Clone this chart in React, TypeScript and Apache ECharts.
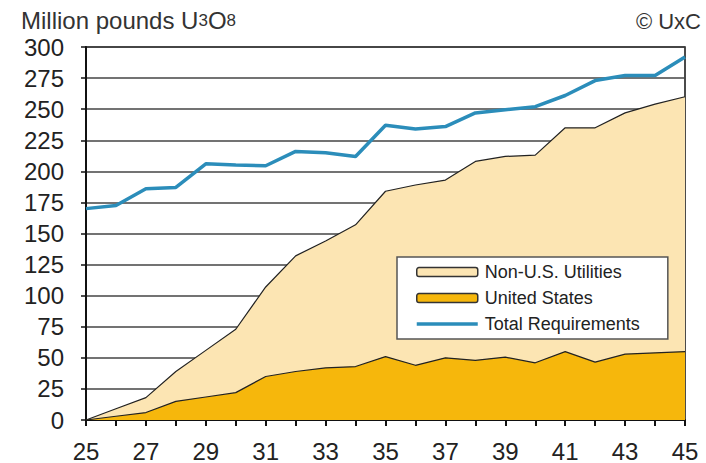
import React, { useEffect, useRef } from "react";
import * as echarts from "echarts";

const years = ["25","26","27","28","29","30","31","32","33","34","35","36","37","38","39","40","41","42","43","44","45"];
const unitedStates = [0, 3, 6, 15, 18.5, 22, 35, 39, 42, 43, 51, 44, 50, 48, 50.5, 46, 55, 46.5, 53, 54, 55];
const nonUS = [0, 6, 12, 24, 37.5, 51, 72, 93, 102, 114, 133, 145, 143, 160, 161.5, 167, 180, 188.5, 194, 200, 205];
const totalRequirements = [170, 172.5, 186, 187, 206, 205, 204.5, 216, 215, 212, 237, 234, 236, 247, 249.5, 252, 261, 273, 277, 277, 292];

const FONT = "'Liberation Sans', Arial, sans-serif";
const BLUE = "#2b8dba";
const GOLD = "#f6b70c";
const CREAM = "#fce5b3";

export default function App() {
  const ref = useRef<HTMLDivElement>(null);
  useEffect(() => {
    if (!ref.current) return;
    const chart = echarts.init(ref.current, undefined, { renderer: "svg" });
    chart.setOption({
      animation: false,
      backgroundColor: "#ffffff",
      textStyle: { fontFamily: FONT },
      title: [
        {
          left: 21,
          top: 8,
          padding: 0,
          text: "{a|Million pounds U}{b|3}{a|O}{b|8}",
          textStyle: {
            rich: {
              a: { fontSize: 24, lineHeight: 24, color: "#333", fontWeight: "normal", fontFamily: FONT },
              b: { fontSize: 17, lineHeight: 24, color: "#333", fontWeight: "normal", fontFamily: FONT },
            },
          },
        },
        {
          right: 5,
          top: 10,
          padding: 0,
          text: "© UxC",
          textStyle: { fontSize: 22, lineHeight: 22, color: "#333", fontWeight: "normal", fontFamily: FONT },
        },
      ],
      legend: {
        orient: "vertical",
        left: 397,
        top: 257,
        padding: [6, 28, 6, 19],
        itemWidth: 61,
        itemHeight: 9,
        itemGap: 8,
        backgroundColor: "#ffffff",
        borderColor: "#555",
        borderWidth: 1.5,
        borderRadius: 0,
        textStyle: { fontSize: 18, color: "#222", fontFamily: FONT, padding: [0, 0, 0, 2] },
        data: [
          { name: "Non-U.S. Utilities", icon: "roundRect", itemStyle: { color: CREAM, borderColor: "#333", borderWidth: 1.5 } },
          { name: "United States", icon: "roundRect", itemStyle: { color: GOLD, borderColor: "#333", borderWidth: 1.5 } },
          { name: "Total Requirements", icon: "path://M0,0 L61,0 L61,3.5 L0,3.5 Z", itemStyle: { color: BLUE, borderWidth: 0 } },
        ],
      },
      grid: {
        left: 86,
        right: 21,
        top: 47,
        bottom: 42,
        show: true,
        borderColor: "#111",
        borderWidth: 1.5,
        backgroundColor: "transparent",
      },
      xAxis: {
        type: "category",
        data: years,
        boundaryGap: false,
        axisLine: { lineStyle: { color: "#111", width: 2 } },
        axisTick: { show: true, interval: 0, length: 6, lineStyle: { color: "#111", width: 2 } },
        axisLabel: { interval: 1, fontSize: 24, color: "#222", margin: 19, fontFamily: FONT },
        splitLine: { show: false },
      },
      yAxis: {
        type: "value",
        min: 0,
        max: 300,
        interval: 25,
        axisLine: { show: true, lineStyle: { color: "#111", width: 2 } },
        axisTick: { show: true, length: 5, lineStyle: { color: "#111", width: 1.5 } },
        axisLabel: { fontSize: 24, lineHeight: 24, color: "#222", margin: 22, fontFamily: FONT },
        splitLine: { show: true, lineStyle: { color: "#444", width: 1.5 } },
      },
      series: [
        {
          name: "United States",
          type: "line",
          stack: "req",
          data: unitedStates,
          symbol: "none",
          lineStyle: { color: "#222", width: 1.2 },
          itemStyle: { color: GOLD },
          areaStyle: { color: GOLD, opacity: 1 },
          z: 2,
        },
        {
          name: "Non-U.S. Utilities",
          type: "line",
          stack: "req",
          data: nonUS,
          symbol: "none",
          lineStyle: { color: "#222", width: 1.2 },
          itemStyle: { color: CREAM },
          areaStyle: { color: CREAM, opacity: 1 },
          z: 1,
        },
        {
          name: "Total Requirements",
          type: "line",
          data: totalRequirements,
          symbol: "none",
          lineStyle: { color: BLUE, width: 3.5 },
          itemStyle: { color: BLUE },
          z: 3,
        },
      ],
    });
    return () => chart.dispose();
  }, []);
  return <div ref={ref} style={{ position: "absolute", left: 0, top: 0, width: 706, height: 463 }} />;
}
